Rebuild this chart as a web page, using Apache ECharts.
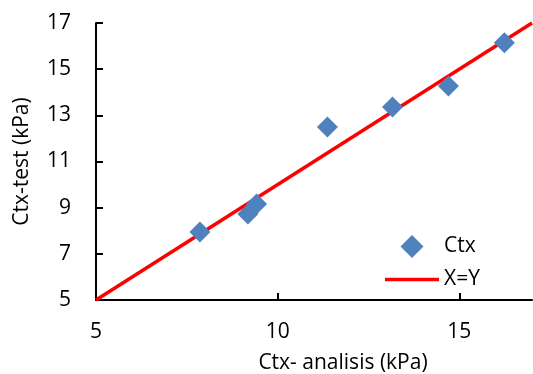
<!DOCTYPE html>
<html>
<head>
<meta charset="utf-8">
<script src="https://cdn.jsdelivr.net/npm/echarts@6/dist/echarts.min.js"></script>
<style>
  html, body { margin: 0; padding: 0; background: #fff; }
  #chart { width: 533px; height: 374px; }
</style>
</head>
<body>
<div id="chart"></div>
<script>
// Measured Ctx: analysis value (x) vs. test value (y), in kPa
const ctxAnalisis = [7.86, 9.18, 9.42, 11.37, 13.16, 14.70, 16.24];
const ctxTest     = [7.95, 8.73, 9.16, 12.50, 13.36, 14.27, 16.14];

// Reference line X = Y
const identityX = [5, 17];
const identityY = [5, 17];

const xTicks = [5, 10, 15];
const yTicks = [5, 7, 9, 11, 13, 15, 17];

const fontFamily = '"Open Sans", Lato, sans-serif';
const fontSize = 21;
const textColor = '#000';

const chart = echarts.init(document.getElementById('chart'), null, { renderer: 'canvas' });

chart.setOption({
  animation: false,
  backgroundColor: '#fff',
  textStyle: { fontFamily: fontFamily, color: textColor },
  grid: { left: 96, right: 1, top: 23, bottom: 74, containLabel: false, outerBoundsMode: 'none' },
  legend: {
    orient: 'vertical',
    left: 380,
    top: 230,
    itemWidth: 54,
    itemHeight: 23,
    itemGap: 11,
    symbolKeepAspect: true,
    textStyle: { fontFamily: fontFamily, fontSize: fontSize, color: textColor },
    data: [
      { name: 'Ctx', icon: 'path://M0,-9L9,0L0,9L-9,0Z' },
      { name: 'X=Y', icon: 'path://M0,0H54V3.5H0Z' }
    ]
  },
  xAxis: {
    type: 'value',
    min: 5,
    max: 17,
    interval: 5,
    name: 'Ctx- analisis (kPa)',
    nameLocation: 'middle',
    nameGap: 53,
    nameTextStyle: { fontFamily: fontFamily, fontSize: fontSize, color: textColor, padding: [0, 0, 0, 58] },
    axisLine: { show: true, onZero: false, lineStyle: { color: '#000', width: 2 } },
    axisTick: { show: true, inside: true, length: 7, customValues: xTicks, lineStyle: { color: '#000', width: 2 } },
    axisLabel: { customValues: xTicks, margin: 22, fontFamily: fontFamily, fontSize: fontSize, color: textColor },
    splitLine: { show: false }
  },
  yAxis: {
    type: 'value',
    min: 5,
    max: 17,
    interval: 2,
    name: 'Ctx-test (kPa)',
    nameLocation: 'middle',
    nameGap: 63,
    nameTextStyle: { fontFamily: fontFamily, fontSize: fontSize, color: textColor },
    axisLine: { show: true, onZero: false, lineStyle: { color: '#000', width: 2 } },
    axisTick: { show: true, inside: true, length: 7, customValues: yTicks, lineStyle: { color: '#000', width: 2 } },
    axisLabel: { customValues: yTicks, margin: 25, fontFamily: fontFamily, fontSize: fontSize, color: textColor },
    splitLine: { show: false }
  },
  series: [
    {
      name: 'X=Y',
      type: 'line',
      data: identityX.map((x, i) => [x, identityY[i]]),
      symbol: 'none',
      clip: true,
      lineStyle: { color: '#FF0000', width: 3.5 },
      itemStyle: { color: '#FF0000' },
      z: 2
    },
    {
      name: 'Ctx',
      type: 'scatter',
      data: ctxAnalisis.map((x, i) => [x, ctxTest[i]]),
      symbol: 'diamond',
      symbolSize: 21,
      itemStyle: { color: '#4F81BD', opacity: 1 },
      z: 3
    }
  ]
});
</script>
</body>
</html>
